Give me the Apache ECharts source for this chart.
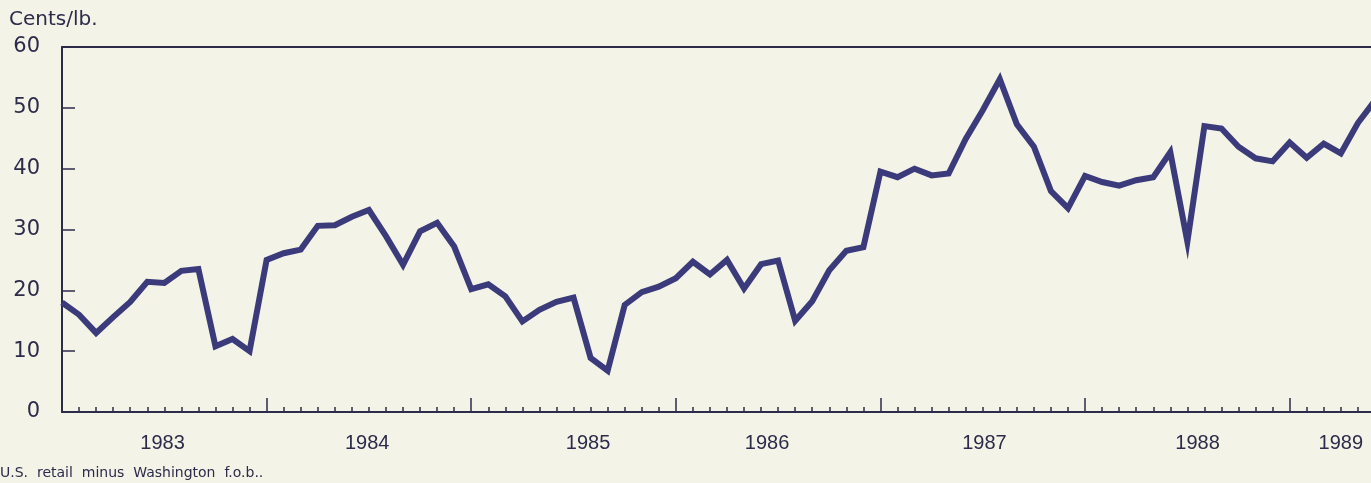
<!DOCTYPE html>
<html>
<head>
<meta charset="utf-8">
<title>Cents/lb.</title>
<script src="https://cdn.jsdelivr.net/npm/echarts@6/dist/echarts.min.js"></script>
<style>
  html, body { margin: 0; padding: 0; background: #f4f3e7; }
  #main { width: 1371px; height: 483px; }
</style>
</head>
<body>
<div id="main"></div>
<script>
// monthly spread, Jan 1983 onwards (index = months since Jan 1983)
var spread = [
  18.0, 16.0, 13.0, 15.6, 18.1, 21.4, 21.2, 23.2, 23.5, 10.8, 12.0, 10.0,
  25.0, 26.1, 26.7, 30.6, 30.7, 32.1, 33.2, 28.9, 24.2, 29.7, 31.1, 27.2,
  20.2, 21.0, 19.0, 14.9, 16.8, 18.1, 18.8, 8.9, 6.8, 17.6, 19.7, 20.6,
  22.0, 24.7, 22.6, 25.0, 20.3, 24.3, 24.9, 15.0, 18.2, 23.3, 26.5, 27.1,
  39.5, 38.6, 40.0, 38.9, 39.2, 44.9, 49.6, 54.7, 47.3, 43.6, 36.3, 33.5,
  38.8, 37.8, 37.2, 38.1, 38.6, 42.7, 28.0, 47.0, 46.6, 43.6, 41.7, 41.2,
  44.3, 41.8, 44.1, 42.5, 47.5, 51.2
];
var yearLabels = ['1983', '1984', '1985', '1986', '1987', '1988', '1989'];
var yearLabelAt = [5.9, 17.9, 30.85, 41.35, 54.1, 66.6, 75.0];
var yearTicks = [12, 24, 36, 48, 60, 72];
var xMax = 76.77;

var monthTicks = [];
for (var m = 1; m <= 76; m++) monthTicks.push(m);

var ink = '#2c2b4a';
var lineColor = '#3b3a7a';
var font = 'Liberation Sans, Arial, sans-serif';
var wideFont = 'DejaVu Sans, sans-serif';

var chart = echarts.init(document.getElementById('main'));

var option = {
    backgroundColor: '#f4f3e7',
    animation: false,
    title: [
        {
            text: 'Cents/lb.',
            left: 9, top: 10, padding: 0,
            textStyle: { fontSize: 20, fontWeight: 'normal', color: ink, fontFamily: wideFont }
        },
        {
            text: 'U.S.  retail  minus  Washington  f.o.b..',
            left: 0, top: 466, padding: 0,
            textStyle: { fontSize: 14, fontWeight: 'normal', color: ink, fontFamily: wideFont }
        }
    ],
    grid: {
        left: 62, right: 0, top: 47, bottom: 71,
        outerBoundsMode: 'none'
    },
    xAxis: [
        {
            type: 'value', min: 0, max: xMax, position: 'bottom',
            axisLine: { show: true, lineStyle: { color: ink, width: 2 } },
            axisTick: { show: true, inside: true, length: 5, customValues: monthTicks,
                        lineStyle: { color: ink, width: 1.5 } },
            axisLabel: {
                show: true, customValues: yearLabelAt, margin: 21,
                fontSize: 20, color: ink, fontFamily: font,
                formatter: function (v) {
                    var k = yearLabelAt.indexOf(v);
                    return k >= 0 ? yearLabels[k] : '';
                }
            },
            splitLine: { show: false }
        },
        {
            type: 'value', min: 0, max: xMax, position: 'bottom',
            axisLine: { show: false },
            axisTick: { show: true, inside: true, length: 14, customValues: yearTicks,
                        lineStyle: { color: ink, width: 1.5 } },
            axisLabel: { show: false },
            splitLine: { show: false }
        },
        {
            type: 'value', min: 0, max: xMax, position: 'top',
            axisLine: { show: true, lineStyle: { color: ink, width: 2 } },
            axisTick: { show: false },
            axisLabel: { show: false },
            splitLine: { show: false }
        }
    ],
    yAxis: {
        type: 'value', min: 0, max: 60, interval: 10,
        axisLine: { show: true, lineStyle: { color: ink, width: 2 } },
        axisTick: { show: true, inside: true, length: 13, lineStyle: { color: ink, width: 1.5 } },
        axisLabel: { margin: 22, fontSize: 21, color: ink, fontFamily: wideFont },
        splitLine: { show: false }
    },
    series: [
        {
            type: 'line',
            xAxisIndex: 0,
            data: spread.map(function (v, i) { return [i, v]; }),
            showSymbol: false,
            clip: true,
            lineStyle: { color: lineColor, width: 6, join: 'miter', miterLimit: 8 }
        }
    ]
};

chart.setOption(option);
</script>
</body>
</html>
